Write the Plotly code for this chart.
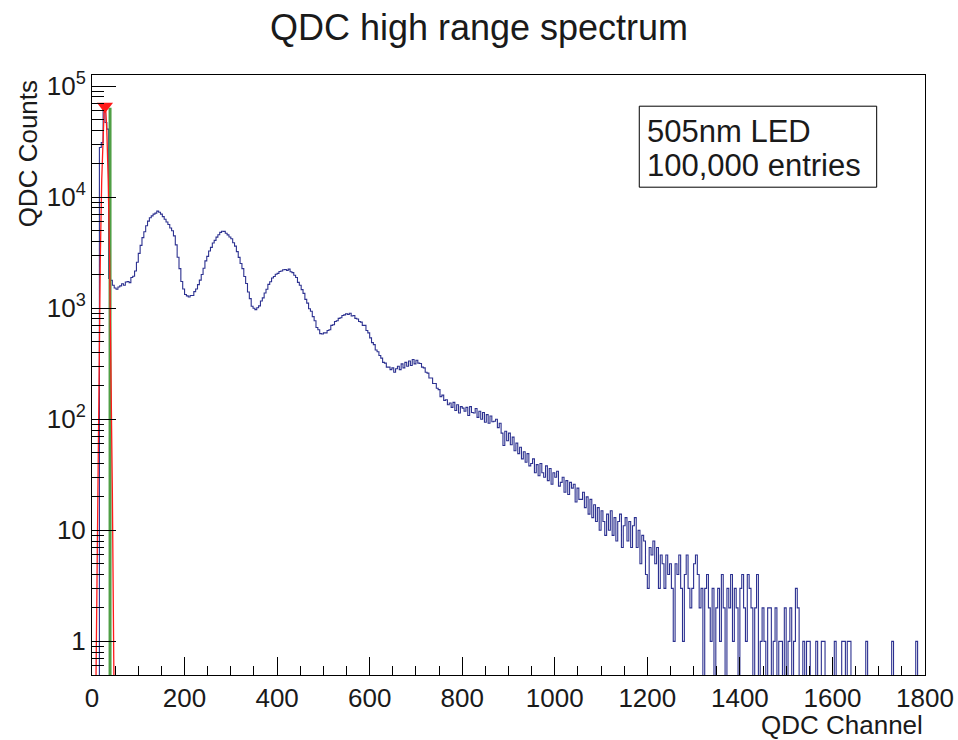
import plotly.graph_objects as go

# ---- QDC spectrum data: 4-channel bins from 0 to 1800 ----
BIN_WIDTH = 4
CH_MIN, CH_MAX = 0, 1800

# pedestal region, channels 0-40
pedestal_counts = [0, 0, 0, 0, 28000, 31000, 66000, 47000, 41000, 1850]

# photo-electron peaks, channels 40-600
pe_peak_counts = [
    1780, 1610, 1520, 1480, 1550, 1590, 1660, 1610, 1720, 1740,
    1700, 1890, 1940, 2160, 2590, 3120, 3680, 4320, 4880, 5520,
    6080, 6520, 6780, 7030, 7180, 7480, 7320, 7040, 6680, 6330,
    5970, 5680, 5270, 4980, 4480, 3720, 2880, 2270, 1740, 1490,
    1330, 1290, 1260, 1300, 1300, 1410, 1490, 1630, 1790, 2010,
    2290, 2670, 2930, 3270, 3530, 3870, 4080, 4370, 4580, 4820,
    4930, 4920, 4730, 4570, 4380, 4220, 3880, 3620, 3230, 2870,
    2530, 2270, 1930, 1670, 1400, 1220, 1040, 1000, 970, 1010,
    1050, 1160, 1240, 1370, 1480, 1640, 1730, 1870, 1930, 2020,
    2060, 2140, 2160, 2220, 2230, 2190, 2250, 2130, 2090, 1980,
    1890, 1710, 1610, 1470, 1360, 1200, 1110, 990, 940, 840,
    770, 670, 640, 590, 585, 600, 600, 630, 640, 700,
    710, 760, 770, 810, 820, 860, 870, 890, 880, 900,
    850, 860, 810, 800, 760, 750, 700, 700, 630, 600,
]

# falling slope, channels 600-1200
slope_counts = [
    540, 490, 470, 420, 405, 375, 355, 325, 320, 295,
    295, 280, 290, 265, 285, 300, 280, 315, 290, 325,
    300, 335, 305, 345, 315, 340, 320, 318, 295, 290,
    265, 260, 235, 235, 210, 210, 190, 185, 160, 165,
    148, 150, 135, 140, 128, 142, 120, 135, 114, 130,
    126, 118, 128, 108, 130, 115, 114, 125, 104, 118,
    100, 115, 94, 110, 92, 107, 95, 96, 100, 84,
    92, 75, 58, 78, 64, 75, 59, 69, 52, 61,
    49, 56, 44, 51, 41, 49, 38, 40, 44, 33,
    39, 31, 40, 33, 30, 38, 28, 36, 26, 33,
    30, 34, 25, 27, 30, 22, 28, 21, 27, 24,
    26, 18, 24, 19, 19, 22, 16, 20, 14, 19,
    13, 17, 12, 16, 10, 15, 12, 9, 14, 10,
    15, 9, 13, 8, 12, 14, 7, 11, 13, 8,
    12, 7, 11, 13, 7, 10, 5, 9, 8, 4,
]

# sparse tail, channels 1200-1800
tail_counts = [
    3, 7, 6, 8, 5, 7, 3, 6, 5, 3,
    6, 4, 5, 3, 1, 5, 4, 6, 3, 1,
    4, 6, 3, 2, 3, 5, 6, 4, 2, 3,
    0, 3, 4, 2, 1, 3, 0, 2, 3, 1,
    4, 2, 0, 3, 2, 4, 1, 3, 2, 0,
    3, 4, 2, 1, 4, 3, 2, 0, 2, 4,
    0, 1, 2, 1, 0, 2, 2, 0, 1, 2,
    0, 1, 1, 0, 2, 0, 1, 2, 0, 1,
    3, 2, 0, 0, 1, 0, 1, 1, 0, 0,
    0, 1, 0, 0, 1, 1, 0, 0, 0, 0,
    0, 1, 0, 0, 0, 1, 1, 0, 1, 1,
    0, 0, 0, 0, 0, 0, 0, 0, 1, 0,
    0, 0, 0, 0, 0, 0, 0, 0, 0, 0,
    0, 0, 1, 0, 0, 0, 0, 0, 0, 0,
    0, 0, 0, 0, 0, 1, 0, 0, 0, 0,
]

# Gaussian pedestal fit, sampled
fit_channel = [7, 12, 15, 18, 21, 24, 26, 28, 30, 32, 35, 38, 41, 44, 47, 48]
fit_counts = [0.1, 22, 336, 2900, 14300, 40000, 58000, 66000, 58000, 40000,
              14300, 2900, 336, 22, 0.7, 0.25]

# pedestal peak marker and threshold line
peak_channel = [28]
peak_counts = [66000]
threshold_channel = [39, 39]
threshold_counts = [0.01, 64000]

y_tick_vals = [1, 10, 100, 1000, 10000, 100000]
y_tick_text = ["1", "10", "10<sup>2</sup>", "10<sup>3</sup>", "10<sup>4</sup>", "10<sup>5</sup>"]
y_minor_vals = [m * 10 ** e for e in range(-1, 6) for m in range(2, 10)]
Y_RANGE = [-0.303, 5.1]

# ---- build the step outline ----
counts = pedestal_counts + pe_peak_counts + slope_counts + tail_counts
edges = [CH_MIN + i * BIN_WIDTH for i in range(len(counts) + 1)]
# empty bins drop below the visible log range, as in a ROOT log plot
y_draw = [c if c > 0 else 0.01 for c in counts]
step_x = edges
step_y = y_draw + [y_draw[-1]]

FONT = "Liberation Sans, Arial, Helvetica, sans-serif"
TXT = "#1a1a1a"
BLUE = "#2c3190"

fig = go.Figure()
fig.add_trace(go.Scatter(
    x=step_x, y=step_y, mode="lines", line_shape="hv",
    line=dict(color=BLUE, width=1.1), hoverinfo="skip", showlegend=False,
))
fig.add_trace(go.Scatter(
    x=fit_channel, y=fit_counts, mode="lines", yaxis="y2",
    line=dict(color="#ff1a1a", width=1.3), showlegend=False,
))
fig.add_trace(go.Scatter(
    x=threshold_channel, y=threshold_counts, mode="lines",
    line=dict(color="#4f9f45", width=3), showlegend=False,
))
fig.add_trace(go.Scatter(
    x=peak_channel, y=peak_counts, mode="markers",
    marker=dict(symbol="triangle-down", size=14, color="#ff1a1a"),
    showlegend=False,
))

fig.update_layout(
    width=958, height=740,
    margin=dict(l=92, r=33, t=75, b=65),
    paper_bgcolor="white", plot_bgcolor="white",
    font=dict(family=FONT, color=TXT, size=26),
    title=dict(text="QDC high range spectrum", x=0.5, xanchor="center",
               y=1 - 27 / 740, yanchor="middle",
               font=dict(family=FONT, size=36, color=TXT)),
    xaxis=dict(
        range=[CH_MIN, CH_MAX], tickmode="linear", tick0=0, dtick=200,
        ticks="inside", ticklen=18, tickwidth=1, tickcolor="black",
        minor=dict(ticks="inside", ticklen=9, dtick=50, tick0=0,
                   tickcolor="black", showgrid=False),
        showline=True, linecolor="black", linewidth=1, mirror=True,
        showgrid=False, zeroline=False, automargin=False,
        tickfont=dict(family=FONT, size=26, color=TXT),
    ),
    yaxis=dict(
        type="log", range=Y_RANGE,
        tickmode="array", tickvals=y_tick_vals, ticktext=y_tick_text,
        ticks="inside", ticklen=24, tickwidth=1, tickcolor="black",
        showline=True, linecolor="black", linewidth=1, mirror=True,
        showgrid=False, zeroline=False, automargin=False,
        tickfont=dict(family=FONT, size=26, color=TXT),
    ),
    # second log axis carrying the minor decade ticks
    yaxis2=dict(
        type="log", range=Y_RANGE, overlaying="y", side="left", anchor="x",
        tickmode="array", tickvals=y_minor_vals, showticklabels=False,
        ticks="inside", ticklen=12, tickwidth=1, tickcolor="black",
        showline=False, showgrid=False, zeroline=False, automargin=False,
    ),
)

# axis titles
fig.add_annotation(text="QDC Channel", xref="paper", yref="paper",
                   x=1.0, y=-0.084, xanchor="right", yanchor="middle",
                   showarrow=False, font=dict(family=FONT, size=26, color=TXT))
fig.add_annotation(text="QDC Counts", xref="paper", yref="paper",
                   x=-0.077, y=0.995, xanchor="center", yanchor="top", textangle=-90,
                   showarrow=False, font=dict(family=FONT, size=26, color=TXT))

# info box
fig.add_shape(type="rect", xref="paper", yref="paper",
              x0=0.657, x1=0.942, y0=0.813, y1=0.948,
              line=dict(color="black", width=1), fillcolor="white", layer="above")
fig.add_annotation(text="505nm LED", xref="paper", yref="paper",
                   x=0.664, y=0.906, xanchor="left", yanchor="middle",
                   showarrow=False, font=dict(family=FONT, size=31, color=TXT))
fig.add_annotation(text="100,000 entries", xref="paper", yref="paper",
                   x=0.664, y=0.849, xanchor="left", yanchor="middle",
                   showarrow=False, font=dict(family=FONT, size=31, color=TXT))

fig.write_html("out.html")
